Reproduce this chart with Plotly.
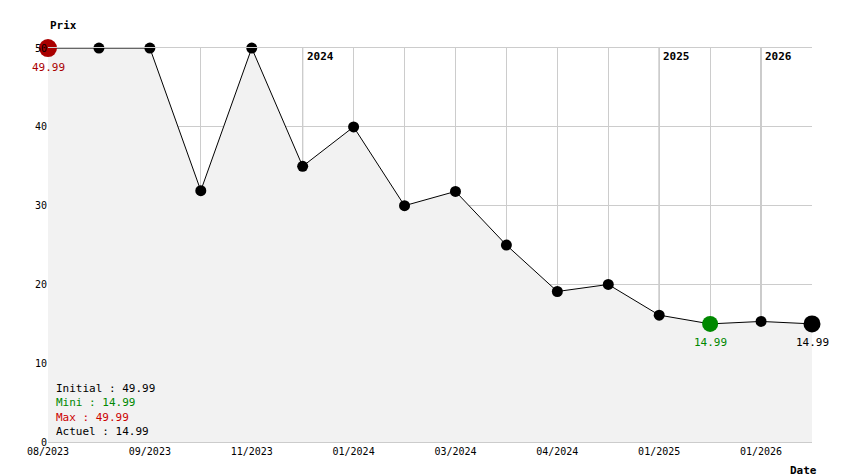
import plotly.graph_objects as go

prices = [49.99, 49.99, 49.99, 31.9, 49.99, 34.99, 39.99, 29.99, 31.8, 24.99, 19.1, 19.99, 16.1, 14.99, 15.3, 14.99]
tick_labels = ["08/2023", "", "09/2023", "", "11/2023", "", "01/2024", "", "03/2024", "", "04/2024", "", "01/2025", "", "01/2026", ""]
year_marks = [(5, "2024"), (12, "2025"), (14, "2026")]
x = list(range(len(prices)))
F = "DejaVu Sans Mono"

fig = go.Figure()
fig.add_trace(go.Scatter(x=x, y=prices, mode="lines+markers", fill="tozeroy", fillcolor="#f2f2f2", cliponaxis=False,
                         line=dict(color="black", width=1), marker=dict(color="black", size=11)))
imax, imin, ilast = 0, 13, len(prices) - 1
fig.add_trace(go.Scatter(x=[imax], y=[prices[imax]], mode="markers", cliponaxis=False, marker=dict(color="#aa0000", size=18)))
fig.add_trace(go.Scatter(x=[imin], y=[prices[imin]], mode="markers", cliponaxis=False, marker=dict(color="#008800", size=16)))
fig.add_trace(go.Scatter(x=[ilast], y=[prices[ilast]], mode="markers", cliponaxis=False, marker=dict(color="black", size=17)))

shapes = [dict(type="line", xref="x", yref="paper", x0=i, x1=i, y0=0, y1=1, layer="below", line=dict(color="#888", width=1)) for i, _ in year_marks]
ann = [dict(x=i, y=1, xref="x", yref="paper", text="<b>%s</b>" % t, showarrow=False, xanchor="left", yanchor="top", xshift=2, font=dict(size=11, color="black")) for i, t in year_marks]
ann += [
    dict(x=imax, y=prices[imax], text="%.2f" % prices[imax], showarrow=False, yshift=-19, font=dict(color="#aa0000", size=11)),
    dict(x=imin, y=prices[imin], text="%.2f" % prices[imin], showarrow=False, yshift=-19, font=dict(color="#008800", size=11)),
    dict(x=ilast, y=prices[ilast], text="%.2f" % prices[ilast], showarrow=False, yshift=-19, font=dict(color="black", size=11)),
    dict(x=0, y=1, xref="paper", yref="paper", text="<b>Prix</b>", showarrow=False, xanchor="left", yanchor="bottom", yshift=14, font=dict(size=11)),
    dict(x=1, y=0, xref="paper", yref="paper", text="<b>Date</b>", showarrow=False, xanchor="right", yanchor="top", xshift=7, yshift=-20, font=dict(size=11)),
    dict(x=0, y=0, xref="paper", yref="paper", xanchor="left", yanchor="bottom", showarrow=False, xshift=6, yshift=2, align="left",
         text="Initial : %.2f<br><span style='color:#008800'>Mini : %.2f</span><br><span style='color:#cc0000'>Max : %.2f</span><br>Actuel : %.2f" % (prices[0], prices[imin], prices[imax], prices[ilast]),
         font=dict(size=11, color="black")),
]

fig.update_layout(width=844, height=474, margin=dict(l=40, r=40, t=40, b=40), showlegend=False,
                  plot_bgcolor="white", paper_bgcolor="white", font=dict(family=F, size=10, color="black"),
                  shapes=shapes, annotations=ann)
fig.update_xaxes(range=[0, 15], tickvals=x, ticktext=tick_labels, showgrid=True, gridcolor="#cccccc", zeroline=False,
                 ticks="", showline=True, linecolor="#cccccc", mirror=True, automargin=False)
fig.update_yaxes(range=[0, 50], dtick=10, showgrid=True, gridcolor="#cccccc", zeroline=False, ticks="", showline=False, automargin=False)
fig.write_html("out.html")
